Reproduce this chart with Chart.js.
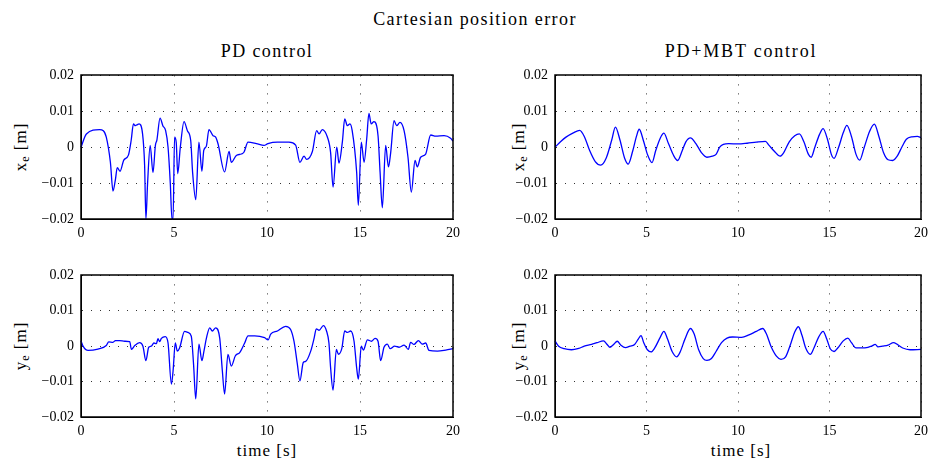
<!DOCTYPE html>
<html>
<head>
<meta charset="utf-8">
<script src="https://cdn.jsdelivr.net/npm/chart.js@4/dist/chart.umd.min.js"></script>
<style>
  html, body { margin:0; padding:0; background:#fff; }
  #wrap { position:relative; width:934px; height:463px; overflow:hidden; font-family:"Liberation Serif", "DejaVu Serif", serif; color:#000; }
  .box { position:absolute; }
  .txt { position:absolute; white-space:nowrap; font-size:18px; letter-spacing:1.4px; transform:translate(-50%,-50%); }
  .ylab { position:absolute; white-space:nowrap; font-size:17px; letter-spacing:1px; transform:translate(-50%,-50%) rotate(-90deg); }
  .ylab sub { font-size:12px; vertical-align:-3px; }
</style>
</head>
<body>
<div id="wrap">
  <div class="txt" style="left:475px;top:19px;">Cartesian position error</div>
  <div class="txt" style="left:267px;top:51px;">PD control</div>
  <div class="txt" style="left:741px;top:51px;letter-spacing:1.8px;">PD+MBT control</div>
  <div class="ylab" style="left:22px;top:147px;">x<sub>e</sub> [m]</div>
  <div class="ylab" style="left:520px;top:147px;">x<sub>e</sub> [m]</div>
  <div class="ylab" style="left:22px;top:346px;">y<sub>e</sub> [m]</div>
  <div class="ylab" style="left:520px;top:346px;">y<sub>e</sub> [m]</div>
  <div class="txt" style="left:267px;top:451px;font-size:17px;letter-spacing:1px;">time [s]</div>
  <div class="txt" style="left:741px;top:451px;font-size:17px;letter-spacing:1px;">time [s]</div>
  <div class="box" style="left:0;top:60px;width:470px;height:190px;"><canvas id="c1" width="470" height="190"></canvas></div>
  <div class="box" style="left:470px;top:60px;width:464px;height:190px;"><canvas id="c2" width="464" height="190"></canvas></div>
  <div class="box" style="left:0;top:260px;width:470px;height:203px;"><canvas id="c3" width="470" height="203"></canvas></div>
  <div class="box" style="left:470px;top:260px;width:464px;height:203px;"><canvas id="c4" width="464" height="203"></canvas></div>
</div>
<script>
// ---- Data (time in s, error in m) ----
const xTicks = [0, 5, 10, 15, 20];
const yTicks = [-0.02, -0.01, 0, 0.01, 0.02];

// PD control, x_e
const pdXTime = [0,0.29,1.0,1.2,1.36,1.58,1.72,1.85,1.95,2.1,2.3,2.55,2.7,2.82,2.92,3.03,3.12,3.31,3.42,3.49,3.58,3.72,3.87,4.0,4.08,4.25,4.4,4.55,4.68,4.8,4.89,4.95,5.03,5.12,5.2,5.34,5.54,5.72,5.9,6.0,6.17,6.34,6.5,6.6,6.74,6.88,7.1,7.24,7.37,7.72,7.96,8.08,8.35,8.62,8.76,8.98,9.43,9.84,10.05,10.56,11.18,11.54,11.77,11.99,12.13,12.44,12.67,12.8,12.97,13.24,13.42,13.55,13.75,13.87,14.05,14.18,14.32,14.46,14.58,14.82,14.91,15.07,15.22,15.36,15.48,15.6,15.75,15.97,16.08,16.2,16.38,16.53,16.65,16.83,16.97,17.15,17.37,17.58,17.76,17.96,18.08,18.26,18.53,18.8,19.07,19.52,19.87,20];
const pdXVal = [0,0.0037,0.0049,0.0046,0.0028,-0.0042,-0.0122,-0.009,-0.0057,-0.0067,-0.0036,-0.0022,0.002,0.0065,0.006,0.0063,0.0065,0.0037,-0.005,-0.02,-0.01,0.0005,-0.0071,0.0005,0.002,0.0081,0.006,0.0046,0,-0.01,-0.02,-0.02,0.0028,0.0013,-0.0074,0,0.0071,0.0046,0.0018,-0.007,-0.0146,0.0014,-0.0067,-0.0009,0.0003,0.0049,0.0032,0.0028,0.0009,-0.0069,-0.0012,-0.0042,-0.0023,-0.0019,-0.0014,0.0014,0.001,0.0005,0.001,0.0014,0.0014,0.0006,-0.0042,-0.0025,-0.0034,-0.0012,0.0046,0.0037,0.0049,0.0029,-0.0015,-0.0111,0,-0.0044,0.0014,0.0079,0.006,0.0065,0.0046,-0.007,-0.0162,0.0014,-0.0042,0.0023,0.0094,0.0065,0.0071,0.0032,-0.007,-0.0169,0.0005,-0.0055,-0.0015,0.0074,0.006,0.0069,0.0046,-0.0028,-0.0125,-0.0037,-0.0055,-0.0028,-0.0019,0.0034,0.0031,0.0032,0.0025,0.0017];

// PD+MBT control, x_e
const mbtXTime = [0,0.3,0.6,1.0,1.35,1.6,1.9,2.2,2.5,2.8,3.1,3.3,3.55,3.8,4.0,4.25,4.45,4.6,4.85,5.05,5.3,5.5,5.75,5.95,6.2,6.5,6.7,6.95,7.15,7.4,7.7,8.0,8.3,8.6,8.8,9.0,9.2,9.5,10.0,10.5,11.0,11.5,11.7,12.0,12.3,12.5,12.8,13.1,13.35,13.6,13.85,14.0,14.2,14.45,14.65,14.9,15.1,15.25,15.5,15.75,15.95,16.2,16.45,16.65,16.9,17.2,17.45,17.7,17.95,18.2,18.45,18.7,18.95,19.2,19.5,19.8,20];
const mbtXVal = [0,0.0015,0.0028,0.004,0.0047,0.003,-0.001,-0.004,-0.005,-0.003,0.002,0.0056,0.002,-0.003,-0.0047,-0.001,0.003,0.005,0.0015,-0.002,-0.0043,-0.001,0.0025,0.0039,0.001,-0.0025,-0.0037,-0.001,0.0015,0.0026,0.001,-0.0015,-0.0028,-0.0025,-0.002,0,0.0008,0.001,0.0009,0.0011,0.0014,0.0016,0.0005,-0.0012,-0.0025,-0.0015,0.0015,0.0032,0.0037,0.0015,-0.002,-0.0028,0,0.0035,0.0052,0.002,-0.002,-0.0031,0,0.004,0.0061,0.003,-0.002,-0.0036,0,0.0045,0.0064,0.003,-0.0015,-0.0035,-0.0037,-0.0025,0,0.0022,0.0029,0.003,0.0027];

// PD control, y_e
const pdYTime = [0,0.11,0.38,0.91,1.36,1.49,1.72,1.85,2.08,2.35,2.62,2.71,2.89,3.15,3.33,3.49,3.64,3.78,3.92,4.05,4.14,4.23,4.32,4.53,4.68,4.86,4.95,5.07,5.18,5.3,5.57,5.75,5.93,6.05,6.17,6.34,6.5,6.61,6.74,6.92,7.06,7.24,7.46,7.6,7.72,7.9,8.08,8.3,8.53,8.8,8.98,9.34,9.87,10.06,10.2,10.56,11.0,11.27,11.45,11.63,11.77,11.95,12.08,12.35,12.53,12.65,12.8,13.03,13.2,13.33,13.42,13.55,13.73,13.84,14.02,14.18,14.32,14.5,14.68,14.82,14.91,15.07,15.18,15.4,15.61,15.81,15.97,16.11,16.29,16.47,16.62,16.86,17.1,17.37,17.6,17.72,17.9,18.14,18.35,18.53,18.71,19.16,19.61,20];
const pdYVal = [0.0015,0,-0.0012,-0.0008,0.0002,0.0012,0.0011,0.0016,0.0016,0.0014,0.0013,-0.0009,0.0002,0.001,0,-0.0041,-0.0003,0,0.0009,0.0007,0.0021,0.0013,0.0022,0.0027,0.0009,-0.0107,-0.007,0.0009,-0.0014,-0.0005,0.0042,0.0039,0.0028,-0.005,-0.0149,0.0006,-0.0041,-0.0014,0.0022,0.0052,0.0043,0.0052,0.0022,-0.007,-0.0135,-0.0023,-0.0056,-0.0027,-0.0018,0.0009,0.0029,0.0029,0.0024,0.0018,0.0034,0.0043,0.0056,0.0047,0.0014,-0.005,-0.0098,-0.0046,-0.0043,-0.0014,0.0022,0.0049,0.0045,0.0058,0.0043,0.0009,-0.0061,-0.0124,-0.0009,-0.0023,-0.0007,0.0043,0.0039,0.0043,0.0014,-0.0061,-0.0093,0,-0.0011,0.0018,0.0014,0.0022,0.0014,-0.0041,-0.0003,0.0006,-0.0007,0,-0.0003,0.0003,-0.0009,0.0011,0.0005,0.0016,0.0006,0.0009,-0.0012,-0.0014,-0.0011,-0.0007];

// PD+MBT control, y_e
const mbtYTime = [0,0.2,0.5,0.9,1.3,1.6,2.0,2.3,2.65,2.85,3.0,3.2,3.4,3.6,3.85,4.1,4.35,4.55,4.7,4.85,5.05,5.25,5.45,5.75,5.95,6.15,6.4,6.65,6.85,7.1,7.4,7.6,7.85,8.1,8.3,8.55,8.8,9.1,9.4,9.7,10.2,10.6,11.0,11.35,11.55,11.8,12.1,12.35,12.6,12.9,13.1,13.3,13.5,13.7,13.95,14.15,14.4,14.65,14.85,15.05,15.25,15.45,15.75,16.0,16.2,16.45,16.8,17.1,17.3,17.5,17.65,17.9,18.2,18.5,18.7,19.0,19.4,20];
const mbtYVal = [0.0015,0,-0.0007,-0.001,-0.0006,0,0.0005,0.001,0.0015,0.0005,-0.0003,0.0005,0.0014,0.0003,-0.0004,0,0.0005,0.002,0.003,0.001,-0.001,-0.0016,-0.0005,0.0025,0.0042,0.002,-0.0015,-0.003,-0.0015,0.002,0.005,0.0035,-0.001,-0.0035,-0.004,-0.0035,-0.0015,0.001,0.0023,0.0026,0.0025,0.0032,0.0042,0.005,0.0035,0,-0.0028,-0.0037,-0.003,0.001,0.004,0.0055,0.003,-0.0005,-0.0023,-0.0005,0.0025,0.0042,0.002,-0.0008,-0.0015,-0.0005,0.0015,0.0023,0.001,-0.0005,-0.0005,-0.0003,0,0.0005,-0.0002,0,0.0003,0.001,0.0005,-0.0005,-0.001,-0.0009];

// ---- Chart construction ----
const FONT = '"Liberation Serif", "DejaVu Serif", serif';
const boxPlugin = {
  id: 'axbox',
  afterDraw(chart) {
    const a = chart.chartArea, ctx = chart.ctx;
    ctx.save();
    ctx.strokeStyle = '#000';
    ctx.lineWidth = 1.5;
    ctx.setLineDash([]);
    ctx.strokeRect(Math.round(a.left), Math.round(a.top), Math.round(a.right - a.left), Math.round(a.bottom - a.top));
    ctx.restore();
  }
};
function fmt(v) {
  if (Math.abs(v) < 1e-9) return '0';
  return (v < 0 ? '\u2212' : '') + Math.abs(v).toFixed(2);
}
function makeChart(id, times, vals, yAxisW, padTop, padRight, xAxisH) {
  const pts = times.map((t, i) => ({ x: t, y: vals[i] }));
  return new Chart(document.getElementById(id), {
    type: 'line',
    data: { datasets: [{ data: pts, borderColor: '#0000ff', borderWidth: 1.3, pointRadius: 0, fill: false, cubicInterpolationMode: 'monotone', clip: 2 }] },
    options: {
      responsive: false, animation: false,
      layout: { padding: { top: padTop, right: padRight, left: 0, bottom: 0 } },
      plugins: { legend: { display: false }, tooltip: { enabled: false }, title: { display: false } },
      scales: {
        x: {
          type: 'linear', min: 0, max: 20,
          afterBuildTicks(s) { s.ticks = xTicks.map(v => ({ value: v })); },
          afterFit(s) { s.height = xAxisH; },
          ticks: { color: '#000', font: { family: FONT, size: 14 }, padding: 6, maxRotation: 0, callback: v => String(v) },
          grid: { color: '#333', lineWidth: 1, drawTicks: false },
          border: { display: true, color: '#000', dash: [1, 8] }
        },
        y: {
          min: -0.02, max: 0.02,
          afterBuildTicks(s) { s.ticks = yTicks.map(v => ({ value: v })); },
          afterFit(s) { s.width = yAxisW; },
          ticks: { color: '#000', font: { family: FONT, size: 14 }, padding: 7, callback: v => fmt(v) },
          grid: { color: '#333', lineWidth: 1, drawTicks: false },
          border: { display: true, color: '#000', dash: [1, 8] }
        }
      }
    },
    plugins: [boxPlugin]
  });
}
makeChart('c1', pdXTime, pdXVal, 81, 15, 17, 31);
makeChart('c2', mbtXTime, mbtXVal, 85, 15, 7, 31);
makeChart('c3', pdYTime, pdYVal, 81, 14, 17, 46);
makeChart('c4', mbtYTime, mbtYVal, 85, 14, 7, 46);
</script>
</body>
</html>
